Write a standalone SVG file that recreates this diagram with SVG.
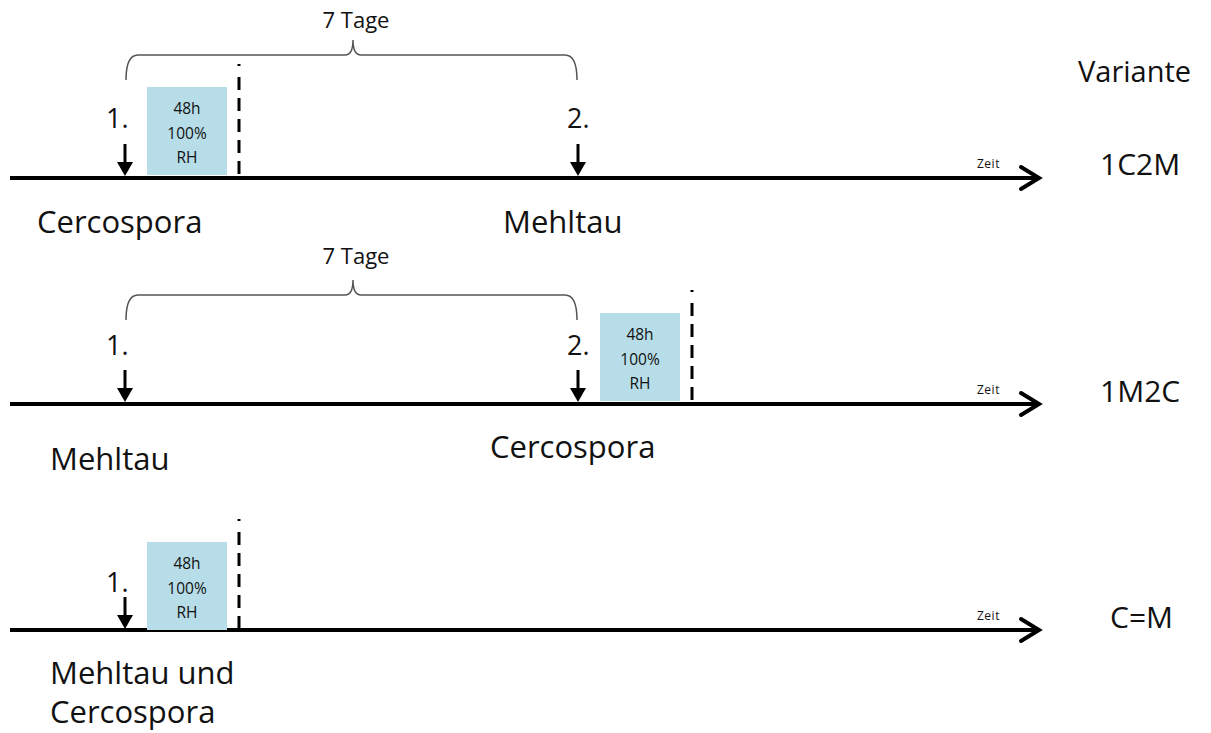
<svg xmlns="http://www.w3.org/2000/svg" width="1211" height="733" viewBox="0 0 1211 733">
  <style>
    text { font-family: "Open Sans", Lato, "Liberation Sans", sans-serif; fill: #111; }
    .axis { stroke: #000; stroke-width: 4; fill: none; }
    .head { stroke: #000; stroke-width: 4; fill: none; stroke-linecap: round; stroke-linejoin: miter; }
    .shaft { stroke: #000; stroke-width: 3; }
    .dash { stroke: #000; stroke-width: 3; stroke-dasharray: 13 8; }
    .brace { stroke: #555; stroke-width: 1.5; fill: none; }
    .box { fill: #b7dde8; }
    .boxt { font-size: 15.5px; text-anchor: middle; }
    .num { font-size: 27px; }
    .lbl { font-size: 31px; }
    .var { font-size: 30px; }
    .head-t { font-size: 29px; }
    .zeit { font-size: 12px; letter-spacing: 0.5px; }
    .tage { font-size: 22px; text-anchor: middle; }
  </style>
  <defs>
    <!-- event marker: short shaft ending in a filled head -->
    <g id="evt">
      <line x1="0" y1="0" x2="0" y2="22" class="shaft"/>
      <path d="M-8 18 L8 18 L0 32 Z" fill="#000"/>
    </g>
    <!-- humidity box: 48h 100% RH -->
    <g id="rh">
      <rect x="0" y="0" width="80" height="88" class="box"/>
      <text x="40" y="27" class="boxt">48h</text>
      <text x="40" y="52" class="boxt">100%</text>
      <text x="40" y="76" class="boxt">RH</text>
    </g>
  </defs>

  <!-- time axes -->
  <g id="connectors">
    <line x1="10" y1="178" x2="1038" y2="178" class="axis"/>
    <path d="M1021 167 L1039 178 L1021 189" class="head"/>
    <line x1="10" y1="404" x2="1038" y2="404" class="axis"/>
    <path d="M1021 393 L1039 404 L1021 415" class="head"/>
    <line x1="10" y1="630" x2="1038" y2="630" class="axis"/>
    <path d="M1021 619 L1039 630 L1021 641" class="head"/>
  </g>

  <!-- variant 1C2M -->
  <g id="variant-1C2M">
    <path class="brace" d="M126 80 Q126 55 138 55 L345 55 Q353 55 353 40 Q353 55 361 55 L565 55 Q577 55 577 80"/>
    <text x="356" y="28" class="tage">7 Tage</text>
    <use href="#rh" x="147" y="87"/>
    <line x1="239" y1="64" x2="239" y2="66" class="shaft"/>
    <line x1="239" y1="77" x2="239" y2="178" class="dash"/>
    <text x="106" y="128" class="num">1.</text>
    <use href="#evt" x="125" y="144"/>
    <text x="567" y="128" class="num">2.</text>
    <use href="#evt" x="578" y="144"/>
    <text x="37" y="233" class="lbl">Cercospora</text>
    <text x="503" y="233" class="lbl">Mehltau</text>
    <text x="977" y="168" class="zeit">Zeit</text>
    <text x="1078" y="82" class="head-t">Variante</text>
    <text x="1100" y="175" class="var">1C2M</text>
  </g>

  <!-- variant 1M2C -->
  <g id="variant-1M2C">
    <path class="brace" d="M126 320 Q126 295 138 295 L345 295 Q353 295 353 280 Q353 295 361 295 L565 295 Q577 295 577 320"/>
    <text x="356" y="264" class="tage">7 Tage</text>
    <use href="#rh" x="600" y="313"/>
    <line x1="692" y1="290" x2="692" y2="292" class="shaft"/>
    <line x1="692" y1="303" x2="692" y2="404" class="dash"/>
    <text x="106" y="355" class="num">1.</text>
    <use href="#evt" x="125" y="370"/>
    <text x="567" y="355" class="num">2.</text>
    <use href="#evt" x="578" y="370"/>
    <text x="50" y="470" class="lbl">Mehltau</text>
    <text x="490" y="458" class="lbl">Cercospora</text>
    <text x="977" y="394" class="zeit">Zeit</text>
    <text x="1100" y="402" class="var">1M2C</text>
  </g>

  <!-- variant C=M -->
  <g id="variant-CM">
    <use href="#rh" x="147" y="542"/>
    <line x1="239" y1="519" x2="239" y2="521" class="shaft"/>
    <line x1="239" y1="532" x2="239" y2="630" class="dash"/>
    <text x="106" y="592" class="num">1.</text>
    <use href="#evt" x="125" y="597"/>
    <text x="50" y="684" class="lbl">Mehltau und</text>
    <text x="50" y="723" class="lbl">Cercospora</text>
    <text x="977" y="620" class="zeit">Zeit</text>
    <text x="1110" y="628" class="var">C=M</text>
  </g>
</svg>
